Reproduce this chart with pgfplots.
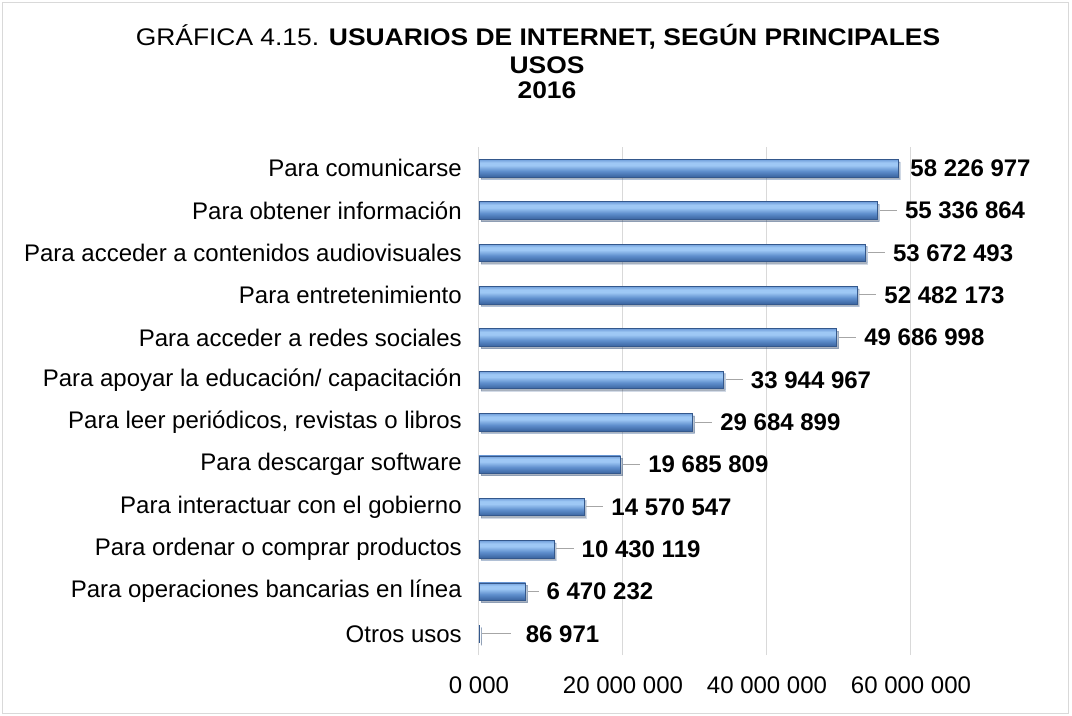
\documentclass[border=0pt]{standalone}
\usepackage{pgfplots}
\pgfplotsset{compat=1.18}
\usepackage{fontspec}
\setmainfont{Liberation Sans}
\newfontfamily\titlefont[FakeStretch=1.10]{Liberation Sans}
\usetikzlibrary{shadows}
\definecolor{gridc}{RGB}{217,217,217}
\definecolor{cA}{RGB}{58,100,160}
\definecolor{cB}{RGB}{95,143,205}
\definecolor{cC}{RGB}{158,200,245}
\definecolor{cD}{RGB}{112,158,218}
\definecolor{baredge}{RGB}{52,88,140}
\pgfdeclareverticalshading{barshade}{100bp}{color(0bp)=(cA); color(25bp)=(cA); color(42bp)=(cB); color(58bp)=(cC); color(66bp)=(cC); color(75bp)=(cD); color(100bp)=(cD)}
\newcommand{\lbl}{\fontsize{18}{20}\selectfont}
\newcommand{\vlbl}{\fontsize{18}{20}\selectfont}
\pgfplotsset{mybar/.style={xbar, bar width=13.1pt, bar shift=0pt, draw=baredge, line width=0.4pt,
  shade, shading=barshade,
  drop shadow={shadow xshift=1.5pt, shadow yshift=-1.8pt, opacity=0.22, fill=black},
  point meta=explicit symbolic,
  nodes near coords={\textcolor{black!35}{\rule[0.33em]{13pt}{0.75pt}}\hspace{6pt}\textbf{\pgfplotspointmeta}},
  nodes near coords style={anchor=west, inner sep=0pt, xshift=1.5pt, font=\vlbl, text=black}}}
\begin{document}
\begin{tikzpicture}
\begin{axis}[
  at={(0pt,0pt)}, anchor=south west,
  scale only axis, width=432pt, height=381pt,
  xmin=0, xmax=80000000, ymin=-0.5, ymax=11.5,
  axis line style={draw=none},
  major tick length=0pt,
  xtick={0,20000000,40000000,60000000},
  xticklabels={0 000, 20 000 000, 40 000 000, 60 000 000},
  scaled x ticks=false,
  xmajorgrids, grid style={gridc, line width=0.75pt},
  ytick={0,...,11},
  yticklabels={Otros usos, Para operaciones bancarias en línea, Para ordenar o comprar productos, Para interactuar con el gobierno, Para descargar software, {Para leer periódicos, revistas o libros}, Para apoyar la educación/ capacitación, Para acceder a redes sociales, Para entretenimiento, Para acceder a contenidos audiovisuales, Para obtener información, Para comunicarse},
  yticklabel style={font=\lbl, anchor=east, inner sep=0pt},
  xticklabel style={font=\vlbl, anchor=north, inner sep=0pt},
  xticklabel shift=16pt,
  yticklabel shift=12.75pt,
  clip=false,
]
\addplot[mybar, nodes near coords={\textcolor{black!35}{\rule[0.33em]{22pt}{0.75pt}}\hspace{11pt}\textbf{\pgfplotspointmeta}}] coordinates {(86971,0) [86 971]};
\addplot[mybar, nodes near coords={\textcolor{black!35}{\rule[0.33em]{8pt}{0.75pt}}\hspace{6pt}\textbf{\pgfplotspointmeta}}] coordinates {(6470232,1) [6 470 232]};
\addplot[mybar] coordinates {(10430119,2) [10 430 119]};
\addplot[mybar] coordinates {(14570547,3) [14 570 547]};
\addplot[mybar] coordinates {(19685809,4) [19 685 809]};
\addplot[mybar] coordinates {(29684899,5) [29 684 899]};
\addplot[mybar] coordinates {(33944967,6) [33 944 967]};
\addplot[mybar] coordinates {(49686998,7) [49 686 998]};
\addplot[mybar] coordinates {(52482173,8) [52 482 173]};
\addplot[mybar] coordinates {(53672493,9) [53 672 493]};
\addplot[mybar] coordinates {(55336864,10) [55 336 864]};
\addplot[mybar, nodes near coords={\hspace{7.5pt}\textbf{\pgfplotspointmeta}}] coordinates {(58226977,11) [58 226 977]};
\end{axis}
\node[anchor=base, font=\titlefont\fontsize{18}{20}\selectfont, inner sep=0pt] at (44.25pt,456.75pt) {GRÁFICA 4.15. \textbf{USUARIOS DE INTERNET, SEGÚN PRINCIPALES}};
\node[anchor=base, font=\titlefont\fontsize{18}{20}\selectfont\bfseries, inner sep=0pt] at (51pt,436.05pt) {USOS};
\node[anchor=base, font=\titlefont\fontsize{18}{20}\selectfont\bfseries, inner sep=0pt] at (51pt,417.4pt) {2016};
\draw[gridc, line width=0.75pt] (-357pt,-43.5pt) rectangle (441.75pt,489pt);
\pgfresetboundingbox
\useasboundingbox (-359.25pt,-45pt) rectangle (444.75pt,491.25pt);
\end{tikzpicture}
\end{document}
